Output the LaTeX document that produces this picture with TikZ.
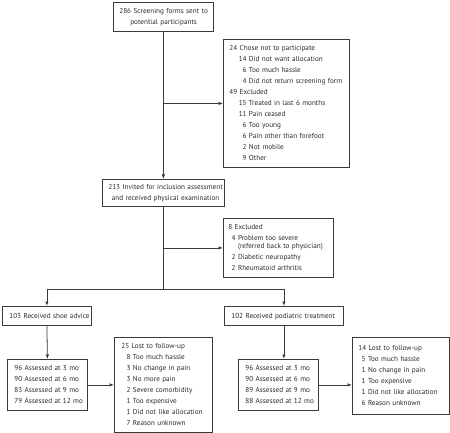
\documentclass[tikz,border=0pt]{standalone}
\usepackage{fontspec}
\setmainfont{PT Sans}
\usetikzlibrary{arrows.meta}
\definecolor{lc}{HTML}{3A3A3A}
\definecolor{tc}{HTML}{2A2A2A}
\newcommand\numc[1]{\makebox[7.2pt][r]{#1}}
\newcommand\lft[1]{\begin{tabular}{@{}l@{}}#1\end{tabular}}
\newcommand\ctr[1]{\begin{tabular}{@{}c@{}}#1\end{tabular}}
\begin{document}
\begin{tikzpicture}[x=1pt,y=-1pt,
  box/.style={draw=lc, line width=0.8pt, inner xsep=6pt, inner ysep=0pt,
    anchor=north west, align=left, text=tc,
    font=\fontsize{7.2}{11}\selectfont},
  cbox/.style={box, align=center},
  arr/.style={draw=lc, line width=0.8pt, -{Latex[length=4.5pt,width=3.5pt]}},
  ln/.style={draw=lc, line width=0.8pt}]
\path[use as bounding box, fill=white] (0,0) rectangle (450,433);

\node[cbox, text width=88pt, minimum height=29pt] (b1) at (113,2)
  {\ctr{286 Screening forms sent to\\potential participants}};

\node[box, text width=114pt, minimum height=128pt] (b2) at (223,39)
  {\lft{24 Chose not to participate\\
   \hspace*{10pt}\numc{14} Did not want allocation\\
   \hspace*{10pt}\numc{6} Too much hassle\\
   \hspace*{10pt}\numc{4} Did not return screening form\\
   49 Excluded\\
   \hspace*{10pt}\numc{15} Treated in last 6 months\\
   \hspace*{10pt}\numc{11} Pain ceased\\
   \hspace*{10pt}\numc{6} Too young\\
   \hspace*{10pt}\numc{6} Pain other than forefoot\\
   \hspace*{10pt}\numc{2} Not mobile\\
   \hspace*{10pt}\numc{9} Other}};

\node[cbox, text width=110pt, minimum height=27pt] (b3) at (102,179)
  {\ctr{213 Invited for inclusion assessment\\and received physical examination}};

\node[box, text width=100pt, minimum height=59pt, inner xsep=5pt] (b4) at (223,218)
  {\lft{8 Excluded\\
   \numc{4} Problem too severe\\[-3pt]
   \numc{}\ (referred back to physician)\\
   \numc{2} Diabetic neuropathy\\
   \numc{2} Rheumatoid arthritis}};

\node[box, text width=75pt, minimum height=19pt, inner xsep=7pt] (shoe) at (2,306)
  {\lft{103 Received shoe advice}};
\node[box, text width=105pt, minimum height=19pt, inner xsep=7pt] (pod) at (224,306)
  {\lft{102 Received podiatric treatment}};

\node[box, text width=66pt, minimum height=51pt, inner xsep=7pt] (assL) at (7,359)
  {\lft{96 Assessed at 3 mo\\90 Assessed at 6 mo\\83 Assessed at 9 mo\\79 Assessed at 12 mo}};
\node[box, text width=66pt, minimum height=51pt, inner xsep=7pt] (assR) at (238,359)
  {\lft{96 Assessed at 3 mo\\90 Assessed at 6 mo\\89 Assessed at 9 mo\\88 Assessed at 12 mo}};

\node[box, text width=84pt, minimum height=95pt, inner xsep=7pt] (lostL) at (114,337)
  {\lft{25 Lost to follow-up\\
   \hspace*{2pt}\numc{8} Too much hassle\\
   \hspace*{2pt}\numc{3} No change in pain\\
   \hspace*{2pt}\numc{3} No more pain\\
   \hspace*{2pt}\numc{2} Severe comorbidity\\
   \hspace*{2pt}\numc{1} Too expensive\\
   \hspace*{2pt}\numc{1} Did not like allocation\\
   \hspace*{2pt}\numc{7} Reason unknown}};
\node[box, text width=85pt, minimum height=77pt] (lostR) at (352,337)
  {\lft{14 Lost to follow-up\\
   \numc{5} Too much hassle\\
   \numc{1} No change in pain\\
   \numc{1} Too expensive\\
   \numc{1} Did not like allocation\\
   \numc{6} Reason unknown}};

\coordinate (split) at (b3.south |- 0,289);
\draw[arr] (b1.south) -- (b3.north);
\draw[arr] (b1.south |- b2.west) -- (b2.west);
\draw[ln] (b3.south) -- (split);
\draw[arr] (b3.south |- b4.west) -- (b4.west);
\draw[arr] (split) -| (shoe.north);
\draw[arr] (split) -| (pod.north);
\draw[arr] (shoe.south) -- (assL.north);
\draw[arr] (pod.south) -- (pod.south |- assR.north);
\draw[arr] (assL.east) -- (lostL.west);
\draw[arr] (assR.east) -- (assR.east -| lostR.west);
\end{tikzpicture}
\end{document}
